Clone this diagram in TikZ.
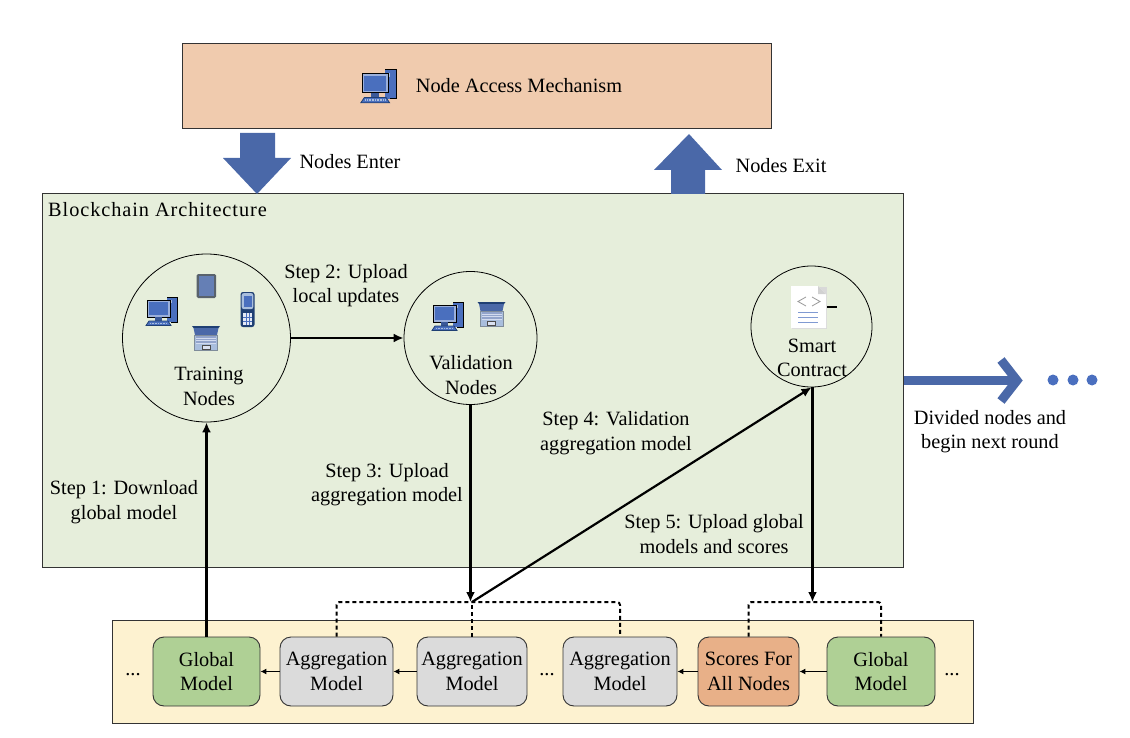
\documentclass[tikz,border=0pt]{standalone}
\usepackage{fontspec}
\setmainfont{Liberation Serif}
\usetikzlibrary{arrows.meta}
\definecolor{accessfill}{HTML}{F0CBAE}
\definecolor{chainfill}{HTML}{E6EEDB}
\definecolor{ledgerfill}{HTML}{FDF2D0}
\definecolor{globalfill}{HTML}{AFD095}
\definecolor{aggfill}{HTML}{DBDBDB}
\definecolor{scorefill}{HTML}{E8B088}
\definecolor{bigblue}{HTML}{4A68A8}
\definecolor{dotblue}{HTML}{4A6FBF}
\definecolor{iconblue}{HTML}{4A6FBE}
\definecolor{icondark}{HTML}{1F3F73}
\definecolor{iconlight}{HTML}{A9BEDD}
\definecolor{icongrey}{HTML}{7F8C9A}
\tikzset{
  x=1pt,y=-1pt,
  label text/.style={align=center,inner sep=0pt,text=black,font=\fontsize{20.3}{24.5}\selectfont},
  panel/.style={draw=black!80,line width=1pt,inner sep=0pt},
  round node/.style={circle,draw=black,line width=0.8pt,inner sep=0pt,minimum size=#1},
  block/.style={draw=black!80,line width=0.9pt,rounded corners=11pt,inner sep=0pt,minimum height=69pt,align=center,font=\fontsize{20.3}{24.5}\selectfont},
  flow/.style={-{Latex[length=10pt,width=9pt]},line width=2.2pt,black},
  chainarrow/.style={-{Latex[length=6pt,width=6pt]},line width=1pt,black},
  dashlink/.style={line width=2pt,black,dash pattern=on 4pt off 3pt,rounded corners=3pt},
  pics/computer/.style={code={
    \fill[iconblue] (20,0) rectangle (30,25);
    \draw[black,line width=1pt] (20,0) -- (30,0) -- (30,25) -- (24,25);
    \fill[iconlight] (22,2.5) rectangle (24.5,6);
    \fill[white!45!iconblue,draw=black,line width=1pt] (0,3) rectangle (23,20);
    \fill[iconblue] (2,5) rectangle (21,18);
    \fill[iconblue!80!black] (8,20) rectangle (15,24);
    \fill[iconblue,draw=icondark,line width=0.8pt] (-1,28.5) -- (2,24) -- (21,24) -- (24,28.5) -- cycle;
    \draw[iconlight,line width=1.4pt,dash pattern=on 1pt off 0.6pt] (3,26.2) -- (20,26.2);
  }},
  pics/laptop/.style={code={
    \fill[icondark] (-1,0) -- (27,0) -- (25.5,2) -- (0.5,2) -- cycle;
    \fill[bigblue] (0.5,2) -- (25.5,2) -- (24,9) -- (2,9) -- cycle;
    \fill[iconlight,draw=icongrey,line width=0.8pt] (1.5,9) rectangle (24.5,24);
    \fill[bigblue!60!white] (3,10) rectangle (23,18);
    \draw[white!75!iconblue,line width=0.5pt] (3,12) -- (23,12) (3,14.5) -- (23,14.5) (3,17) -- (23,17);
    \fill[white!80!iconblue,draw=black!70,line width=0.6pt] (9,19) rectangle (17,23.5);
  }},
  pics/tablet/.style={code={
    \fill[icongrey!70!black,rounded corners=1.5pt] (0,0) rectangle (19.5,24);
    \fill[bigblue!85!white] (2,2) rectangle (17.5,22);
  }},
  pics/phone/.style={code={
    \fill[icondark,rounded corners=2.5pt] (0,0) rectangle (14,35);
    \fill[iconlight,rounded corners=2pt] (1.2,1.2) rectangle (12.8,17);
    \fill[iconblue] (3,4) rectangle (11,15);
    \fill[white!85!iconblue] (2.5,21) rectangle (11.5,33);
    \draw[iconblue,line width=0.5pt] (2.5,25) -- (11.5,25) (2.5,29) -- (11.5,29) (5.5,21) -- (5.5,33) (8.5,21) -- (8.5,33);
  }},
  pics/contract/.style={code={
    \fill[black!15] (1,1) rectangle (35.7,42.7);
    \fill[white] (0,0) -- (27,0) -- (35,8) -- (35,42) -- (0,42) -- cycle;
    \fill[black!18] (27,0) -- (35,8) -- (27,8) -- cycle;
    \draw[black!40,line width=0.8pt] (15,11) -- (7,15.5) -- (15,20) (21,11) -- (29,15.5) -- (21,20);
    \draw[iconblue!70,line width=0.8pt] (7,26) -- (27,26) (7,31) -- (27,31) (7,36) -- (27,36);
  }},
}
\begin{document}
\begin{tikzpicture}
\useasboundingbox (0,0) rectangle (1130,738);
% panels
\node[panel,fill=accessfill,minimum width=589.5pt,minimum height=85pt] (access) at (477,85.7) {};
\node[panel,fill=chainfill,minimum width=861pt,minimum height=373pt] (chain) at (472.5,380.5) {};
\node[panel,fill=ledgerfill,minimum width=861pt,minimum height=103pt] (ledger) at (542.5,671.5) {};
% big arrows
\fill[bigblue] (240,133) -- (275,133) -- (275,158) -- (291,158) -- (257,194) -- (223,158) -- (240,158) -- cycle;
\fill[bigblue] (689,134) -- (722,170) -- (705,170) -- (705,194) -- (671,194) -- (671,170) -- (654,170) -- cycle;
\fill[bigblue] (904,376) -- (1014,376) -- (1014,385) -- (904,385) -- cycle;
\draw[bigblue,line width=9pt,miter limit=10] (1001,360) -- (1017,380.5) -- (1001,401);
\foreach \dotname/\dotx in {dota/1053,dotb/1073,dotc/1092}
  \node[circle,fill=dotblue,minimum size=11pt,inner sep=0pt] (\dotname) at (\dotx,380) {};
% circles
\node[round node=168pt] (training) at (206.5,338) {};
\node[round node=133pt] (validation) at (470.5,338) {};
\node[round node=121pt] (smart) at (811.5,326.5) {};
% blocks
\node[block,fill=globalfill,minimum width=107pt] (gma) at (206.5,671.5) {Global\\Model};
\node[block,fill=aggfill,minimum width=113pt] (aga) at (336.5,671.5) {Aggregation\\Model};
\node[block,fill=aggfill,minimum width=110pt] (agb) at (472,671.5) {Aggregation\\Model};
\node[block,fill=aggfill,minimum width=114pt] (agc) at (620,671.5) {Aggregation\\Model};
\node[block,fill=scorefill,minimum width=101pt] (scores) at (748.5,671.5) {Scores For\\All Nodes};
\node[block,fill=globalfill,minimum width=108pt] (gmb) at (881,671.5) {Global\\Model};
% icons
\pic[scale=1.15] at (362,70) {computer};
\pic at (147,297) {computer};
\pic at (433,302) {computer};
\pic at (196.5,274) {tablet};
\pic at (240.5,292) {phone};
\pic at (193,326) {laptop};
\pic at (478.5,302) {laptop};
\pic at (791,286) {contract};
\coordinate (stubl) at (827,307);
\coordinate (stubr) at (837,307);
\draw[black,line width=1.2pt] (stubl) -- (stubr);
% junctions
\coordinate (hubA) at (472,602);
\coordinate (hubB) at (812.5,602);
% dashed
\draw[dashlink] (aga.north) |- (hubA) -| (agc.north);
\draw[dashlink] (agb.north) -- (hubA);
\draw[dashlink] (scores.north) |- (hubB) -| (gmb.north);
% connectors
\draw[flow] (gma.north) -- (training.south);
\draw[flow] (training.east) -- (validation.west);
\draw[flow] (validation.south) -- (validation.south |- hubA);
\draw[flow] (hubA) -- (smart.south);
\draw[flow] (smart.south) ++(1,0) -- (hubB);
\draw[chainarrow] (aga.west) -- (gma.east);
\draw[chainarrow] (agb.west) -- (aga.east);
\draw[chainarrow] (scores.west) -- (agc.east);
\draw[chainarrow] (gmb.west) -- (scores.east);
% labels
\node[label text] (accesstext) at (519,85.5) {Node Access Mechanism};
\node[label text] (entertext) at (350,161.5) {Nodes Enter};
\node[label text] (exittext) at (781,165.5) {Nodes Exit};
\node[label text,anchor=west] (chaintext) at (48,209.5) {\addfontfeature{LetterSpace=4.6}Blockchain Architecture};
\node[label text] (stepb) at (346,285.5) {Step 2: Upload\\local updates};
\node[label text] (stepc) at (387,484.5) {Step 3: Upload\\aggregation model};
\node[label text] (stepd) at (616,433) {Step 4: Validation\\aggregation model};
\node[label text] (stepe) at (714,534) {Step 5: Upload global\\models and scores};
\node[label text] (stepa) at (124,502) {Step 1: Download\\global model};
\node[label text] (dividedtext) at (990,431.5) {Divided nodes and\\begin next round};
\node[label text] (trainingtext) at (209,386.5) {Training\\Nodes};
\node[label text] (validationtext) at (471,375) {Validation\\Nodes};
\node[label text] (smarttext) at (812,358) {Smart\\Contract};
\node[label text] (dotsa) at (133,675) {...};
\node[label text] (dotsb) at (547,675) {...};
\node[label text] (dotsc) at (952,675) {...};
\end{tikzpicture}
\end{document}
